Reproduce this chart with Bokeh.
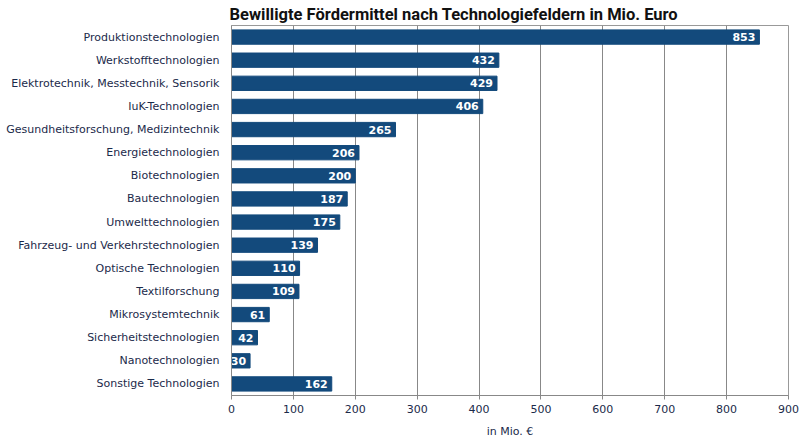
from bokeh.plotting import figure
from bokeh.models import ColumnDataSource, FixedTicker
from bokeh.core.properties import value
from bokeh.embed import file_html
from bokeh.resources import INLINE

categories = [
    "Produktionstechnologien",
    "Werkstofftechnologien",
    "Elektrotechnik, Messtechnik, Sensorik",
    "IuK-Technologien",
    "Gesundheitsforschung, Medizintechnik",
    "Energietechnologien",
    "Biotechnologien",
    "Bautechnologien",
    "Umwelttechnologien",
    "Fahrzeug- und Verkehrstechnologien",
    "Optische Technologien",
    "Textilforschung",
    "Mikrosystemtechnik",
    "Sicherheitstechnologien",
    "Nanotechnologien",
    "Sonstige Technologien",
]
values = [853, 432, 429, 406, 265, 206, 200, 187, 175, 139, 110, 109, 61, 42, 30, 162]
x_ticks = [0, 100, 200, 300, 400, 500, 600, 700, 800, 900]

BAR = "#134a7c"
NAVY = "#1b2a4a"

src = ColumnDataSource(dict(cat=categories, val=values, lab=[str(v) for v in values]))

p = figure(
    y_range=list(reversed(categories)),
    x_range=(0, 900),
    width=800, height=443,
    frame_width=557, frame_height=370,
    min_border_left=231, min_border_right=12, min_border_bottom=10, min_border_top=0,
    output_backend="svg", toolbar_location=None,
    title="Bewilligte Fördermittel nach Technologiefeldern in Mio. Euro",
)
p.title.text_font = "Roboto"
p.title.text_font_style = "bold"
p.title.text_font_size = "16.5px"
p.title.text_color = "#111111"
p.title.align = "left"
p.title.offset = -2
p.title.standoff = 4

p.hbar(y="cat", right="val", left=0, height=0.62, source=src, color=BAR)
p.text(x="val", y="cat", text="lab", source=src, x_offset=-4,
       text_align="right", text_baseline="middle", text_color="white",
       text_font=value("DejaVu Sans"), text_font_style="bold", text_font_size="11px")

p.xaxis.ticker = FixedTicker(ticks=x_ticks)
p.xaxis.axis_label = "in Mio. €"
p.xaxis.axis_label_text_font = "DejaVu Sans"
p.xaxis.axis_label_text_font_style = "normal"
p.xaxis.axis_label_text_font_size = "11px"
p.xaxis.axis_label_text_color = NAVY
p.xaxis.axis_label_standoff = 9
p.xaxis.major_label_text_font = "DejaVu Sans"
p.xaxis.major_label_text_font_size = "11px"
p.xaxis.major_label_text_color = NAVY
p.xaxis.axis_line_color = "#888888"
p.xaxis.major_tick_line_color = "#888888"
p.xaxis.major_tick_in = 0
p.xaxis.major_tick_out = 4
p.xaxis.minor_tick_line_color = None

p.yaxis.major_label_text_font = "DejaVu Sans"
p.yaxis.major_label_text_font_size = "11px"
p.yaxis.major_label_text_color = NAVY
p.yaxis.axis_line_color = "#888888"
p.yaxis.major_tick_line_color = None
p.yaxis.major_label_standoff = 6

p.xgrid.grid_line_color = "#888888"
p.xgrid.grid_line_width = 1
p.ygrid.grid_line_color = None
p.outline_line_color = "#999999"
p.background_fill_color = "white"
p.border_fill_color = "white"

open("out.html", "w").write(file_html(p, INLINE))
